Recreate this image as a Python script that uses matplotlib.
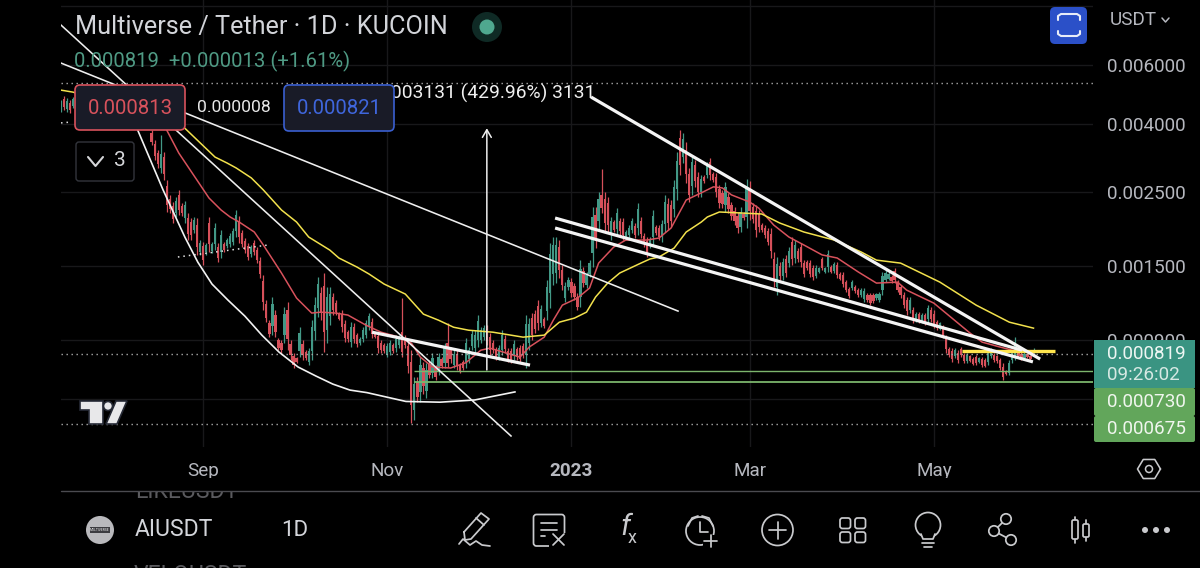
import numpy as np
import matplotlib
matplotlib.use("Agg")
import matplotlib.pyplot as plt
import matplotlib.dates as mdates
from matplotlib.patches import Circle, FancyBboxPatch, Polygon, Rectangle
from matplotlib.ticker import NullFormatter, NullLocator

plt.rcParams["font.family"] = ["Roboto", "DejaVu Sans"]

# daily candles, price in millionths of USDT, first candle is 2022-07-16
highs = [4710,4840,4775,4710,4810,4710,4710,4650,4585,4620,
 4550,4585,4520,4460,4520,4460,4490,4430,4397,4460,
 4397,4340,4397,4340,4310,4340,4280,4250,4280,4220,
 3830,3575,3338,3700,3290,2715,2450,2333,2415,2535,
 2317,2349,2163,2089,2104,2089,1795,1770,1758,2104,
 1770,2018,1758,1923,1770,1820,1884,1950,2208,2118,
 1923,1820,1758,1734,1795,1710,1597,1410,1186,1033,
 1212,1107,913,900,1130,1170,900,823,801,984,
 900,840,852,1033,1212,1391,1298,1430,1298,1298,
 1245,1186,1092,1107,1033,964,1019,1012,945,919,
 984,1033,1085,1048,951,951,900,882,882,900,
 882,932,932,1203,932,900,840,699,699,801,
 775,770,785,823,758,823,801,882,1012,858,
 840,840,770,785,913,858,964,964,1070,984,
 998,998,945,900,858,869,964,932,852,852,
 900,858,869,882,1070,1048,1085,1107,1186,1146,
 1055,1362,1758,1833,1833,1795,1510,1343,1391,1381,
 1334,1245,1563,1490,1440,1563,2254,2254,2500,2930,
 2500,2415,2104,2060,2238,2089,2089,1923,1990,2089,
 2018,2317,2104,1884,1833,1833,2208,1990,1990,2060,
 2450,2398,2365,2715,3290,3830,3750,3525,2950,3225,
 3115,2870,2810,2810,3075,3160,2870,2850,2625,2535,
 2680,2485,2333,2254,2178,2254,2178,2735,2697,2317,
 2285,2208,2018,1990,1950,1950,1652,1597,1541,1586,
 1620,1710,1833,1795,1698,1758,1563,1563,1563,1510,
 1510,1490,1597,1490,1675,1510,1541,1541,1440,1440,
 1362,1298,1362,1316,1289,1289,1289,1245,1245,1245,
 1245,1254,1440,1460,1440,1410,1480,1362,1316,1254,
 1212,1212,1130,1092,1092,1085,1085,1146,1130,1107,
 1033,1019,998,932,858,852,852,840,858,823,
 823,812,801,812,801,801,796,840,852,823,
 812,796,770,733,785,840,919,852,829,829,
 823,812,852]
lows = [4340,4397,4340,4310,4460,4340,4397,4280,4220,4340,
 4220,4310,4165,4165,4250,4165,4220,4135,4108,4165,
 4108,4050,4108,4050,4025,4080,3995,3970,4050,3940,
 3455,3115,2950,2850,2715,2178,2163,2018,2104,2133,
 2118,2018,1795,1795,1884,1620,1620,1510,1620,1652,
 1641,1675,1541,1586,1652,1698,1710,1734,1833,1758,
 1710,1641,1563,1597,1620,1531,1381,1107,1019,919,
 932,919,840,823,882,840,785,743,770,801,
 785,785,758,785,900,1055,1033,829,882,998,
 1070,1070,1033,951,888,888,858,882,858,869,
 888,913,964,913,913,823,823,823,801,812,
 823,829,852,801,852,718,508,519,586,586,
 623,604,694,694,684,708,743,743,748,770,
 743,733,718,733,743,770,840,823,858,882,
 900,869,812,823,785,785,812,823,775,770,
 785,785,770,796,743,840,900,945,964,984,
 978,1033,1122,1316,1334,1381,1271,1170,1271,1212,
 1186,1107,1130,1298,1289,1391,1490,1698,1923,2163,
 1897,1884,1795,1897,1858,1858,1795,1795,1820,1884,
 1820,1858,1820,1710,1597,1698,1734,1858,1795,1770,
 1897,1923,1963,2104,2365,2810,3052,2660,2333,2450,
 2590,2415,2415,2660,2755,2715,2680,2415,2238,2238,
 2178,2163,2060,1990,1884,1897,2060,1950,2060,2018,
 1833,1897,1897,1820,1734,1586,1298,1228,1362,1362,
 1391,1490,1510,1531,1541,1490,1391,1460,1391,1362,
 1381,1430,1460,1430,1440,1430,1430,1381,1362,1298,
 1254,1203,1271,1245,1212,1212,1170,1170,1146,1162,
 1186,1170,1228,1343,1362,1334,1334,1254,1203,1122,
 1070,1085,1012,1019,1012,1012,998,1012,1019,978,
 964,964,913,823,801,775,796,770,801,770,
 770,775,758,758,770,748,748,758,796,775,
 770,733,684,708,708,770,785,796,785,785,
 796,785,812]
opens = [4415,4750,4425,4630,4530,4635,4460,4575,4510,4395,
 4485,4365,4450,4400,4305,4400,4275,4370,4340,4225,
 4340,4280,4165,4280,4255,4130,4225,4195,4095,4165,
 3755,3485,3260,2950,3175,2610,2390,2270,2165,2455,
 2275,2085,2090,2030,1930,1995,1655,1720,1650,2015,
 1665,1745,1715,1655,1745,1720,1745,1775,1910,2045,
 1880,1785,1720,1625,1760,1675,1555,1350,1155,1010,
 990,1070,900,885,930,1105,875,805,795,835,
 875,830,775,835,960,1120,1245,1310,965,1060,
 1210,1165,1080,1075,1005,950,890,985,930,880,
 905,935,990,1020,945,925,885,870,815,830,
 870,850,870,950,915,865,775,555,675,630,
 745,635,765,720,745,730,790,770,880,840,
 760,820,760,775,775,790,865,850,900,900,
 920,970,920,885,845,800,840,910,835,835,
 810,845,850,865,810,880,1050,1075,1140,1015,
 1040,1100,1250,1420,1435,1710,1460,1205,1295,1345,
 1305,1215,1215,1450,1320,1425,1640,2140,2040,2450,
 2380,2310,1855,2030,1935,2045,2030,1820,1855,1925,
 1980,1950,2045,1850,1785,1725,1830,1965,1950,1830,
 2010,2305,2285,2225,2550,3625,3190,3350,2825,2605,
 3010,2780,2495,2780,2820,3070,2830,2765,2550,2475,
 2280,2420,2280,2200,2120,1970,2155,2110,2570,2255,
 2195,2145,1995,1955,1905,1875,1580,1300,1505,1405,
 1575,1535,1770,1585,1665,1705,1530,1545,1530,1480,
 1405,1440,1570,1440,1490,1495,1450,1510,1425,1410,
 1340,1280,1290,1300,1275,1225,1195,1230,1225,1230,
 1200,1185,1270,1365,1375,1395,1450,1340,1295,1230,
 1185,1110,1105,1035,1075,1025,1070,1040,1110,1080,
 1020,975,980,910,845,835,805,825,845,810,
 780,805,790,800,775,790,785,775,805,815,
 805,785,750,728,720,785,810,840,820,795,
 818,806,806]
closes = [4635,4485,4690,4390,4740,4415,4650,4355,4295,4565,
 4285,4530,4235,4225,4465,4225,4435,4195,4165,4400,
 4165,4110,4340,4110,4080,4290,4050,4025,4235,3995,
 3530,3205,3030,3250,2830,2285,2220,2080,2355,2215,
 2160,2285,1870,1855,2060,1715,1760,1560,1730,1745,
 1745,1950,1585,1855,1675,1795,1850,1905,2135,1830,
 1750,1675,1600,1705,1655,1565,1425,1170,1050,940,
 1155,955,855,840,1080,905,810,760,775,945,
 810,795,835,985,1150,1325,1085,950,1215,1240,
 1105,1095,1045,985,915,905,985,910,875,910,
 965,1010,1060,940,920,850,840,835,865,880,
 835,910,915,830,870,755,575,665,610,760,
 655,735,710,795,700,800,755,855,770,790,
 820,755,730,745,880,840,940,935,1030,965,
 980,895,840,840,800,850,935,845,790,785,
 875,800,790,815,1005,1005,935,975,1010,1115,
 995,1295,1630,1730,1735,1465,1320,1310,1365,1245,
 1215,1135,1475,1335,1410,1530,2100,1810,2385,2240,
 2020,1990,2040,1930,2160,1905,1855,1900,1955,2050,
 1860,2225,1875,1745,1645,1805,2115,1885,1835,2000,
 2340,2020,2045,2590,3105,3015,3610,2835,2455,3070,
 2695,2505,2730,2690,3010,2805,2720,2500,2315,2300,
 2580,2230,2115,2045,1945,2180,2085,2580,2190,2080,
 1925,1960,1920,1855,1775,1660,1370,1525,1400,1540,
 1435,1665,1575,1740,1570,1545,1425,1480,1425,1390,
 1485,1480,1485,1480,1630,1445,1520,1410,1375,1325,
 1275,1220,1345,1260,1225,1275,1265,1185,1165,1180,
 1235,1235,1400,1435,1425,1350,1365,1275,1225,1150,
 1100,1185,1035,1075,1030,1070,1015,1120,1040,1005,
 980,1010,930,845,815,790,840,785,815,780,
 810,780,765,770,795,760,755,825,840,785,
 780,745,700,713,770,825,890,805,795,820,
 802,790,819]

# moving averages: day number since the first candle, price
red_days = [35,39,45,49,53,56,59,64,67,73,78,83,86,91,95,101,106,112,116,119,123,129,134,139,142,152,155,160,163,166,171,175,178,183,187,194,198,202,207,212,216,219,222,228,231,236,241,246,252,257,264,270,277,280,289,295,301,305,311,315,322]
red_vals = [3830,3270,2715,2398,2208,2104,2032,1897,1734,1430,1203,1085,1092,1085,1070,998,951,919,882,801,748,743,770,840,852,801,858,919,1033,1146,1203,1289,1531,1710,1795,1795,1820,1950,2365,2485,2590,2570,2450,2333,2238,1990,1833,1734,1620,1586,1440,1334,1343,1271,1162,1048,945,888,858,840,823]
yellow_days = [0,4,41,51,55,58,63,67,73,78,82,89,92,98,102,107,114,117,120,125,130,135,143,153,160,165,170,174,177,181,183,185,192,195,198,203,207,212,214,218,225,232,238,246,256,265,270,278,291,303,314,322]
yellow_vals = [5045,4975,3880,3180,3052,2950,2755,2535,2208,2032,1833,1675,1586,1490,1420,1325,1237,1154,1077,1033,984,964,951,919,932,1019,1048,1092,1212,1334,1381,1430,1531,1575,1597,1698,1897,2032,2104,2178,2163,2148,2018,1897,1795,1652,1563,1531,1343,1146,1019,978]

# trend lines the chart author drew
thin_lines = [([0, 149], [7900, 465]), ([0, 204.3], [6080, 1100])]
thick_lines = [([163.6, 318.2], [2089, 840]), ([163.6, 321.8], [1950, 775]),
               ([175.5, 324.2], [4810, 790]), ([103, 155.3], [951, 758])]
arc_days = [25.1,26.1,33.8,41,45.3,50,55.3,60.9,66.5,72.2,78.5,84.4,90,95.7,101.3,114.2,125.5,137,150.3]
arc_vals = [3885,3700,2535,1833,1541,1325,1186,1062,932,829,748,703,665,638,627,590,587,596,630]
level_lines = [5300, 819, 505]
support_lines = [730, 675]

price_ticks = [0.006, 0.004, 0.0025, 0.0015, 0.0009]
price_labels = ["0.006000", "0.004000", "0.002500", "0.001500", "0.000900"]
grid_only = [0.009, 0.0006]
month_ticks = ["2022-09-01", "2022-11-01", "2023-01-01", "2023-03-01", "2023-05-01"]
month_labels = ["Sep", "Nov", "2023", "Mar", "May"]

UP = "#429886"
DOWN = "#d6505a"
TXT = "#b6b8bf"
ICON = "#c9cacd"

start = mdates.date2num(np.datetime64("2022-07-16"))


def price(vals):
    return np.array(vals) * 1e-6


fig = plt.figure(figsize=(12, 5.68), dpi=100, facecolor="black")
ax = fig.add_axes([61 / 1200, 1 - 447 / 568, (1093 - 61) / 1200, 447 / 568], facecolor="black")
ax.set_yscale("log")
ax.set_ylim(0.000431, 0.00939)
ax.set_xlim(start, start + 341.7)

for s in ax.spines.values():
    s.set_visible(False)

ax.yaxis.tick_right()
ax.set_yticks(price_ticks + grid_only)
ax.set_yticklabels(price_labels + ["", ""])
ax.yaxis.set_minor_locator(NullLocator())
ax.yaxis.set_minor_formatter(NullFormatter())
ax.tick_params(axis="y", length=0, pad=10, labelsize=13.6, labelcolor=TXT)
ticks = [mdates.date2num(np.datetime64(m)) for m in month_ticks]
ax.set_xticks(ticks)
ax.set_xticklabels(month_labels)
ax.tick_params(axis="x", length=0, pad=11, labelsize=13.6, labelcolor=TXT)
ax.get_xticklabels()[2].set_fontweight("bold")
ax.grid(True, color="#18181a", lw=1.0, zorder=0)
ax.set_axisbelow(True)

# candles
x = start + np.arange(len(closes))
hi, lo, op, cl = price(highs), price(lows), price(opens), price(closes)
cols = [UP if c >= o else DOWN for o, c in zip(op, cl)]
ax.vlines(x, lo, hi, colors=cols, lw=0.9, zorder=2)
ax.bar(x, np.abs(cl - op), bottom=np.minimum(op, cl), width=0.74, color=cols, linewidth=0, zorder=2)

# moving averages
ax.plot(start + np.array(red_days), price(red_vals), color="#d8525c", lw=1.1, zorder=3)
ax.plot(start + np.array(yellow_days), price(yellow_vals), color="#f2e14c", lw=1.1, zorder=3)

# levels
for v in level_lines:
    ax.axhline(v * 1e-6, color="#a9a9a9", lw=1.0, ls=(0, (1, 2.6)), zorder=3)
ax.plot(start + np.array([0, 3.6]), price([4025, 4050]), color="#dddddd", lw=1.1, ls=(0, (1, 2.6)), zorder=4)
ax.plot(start + np.array([38.7, 68.5]), price([1597, 1734]), color="#e6e6e6", lw=1.1, ls=(0, (1, 2.6)), zorder=4)
for v, w in zip(support_lines, [1.0, 1.3]):
    ax.hlines(v * 1e-6, start + 116.9, start + 341.7, color="#7cb56c", lw=w, zorder=4)
ax.hlines(835e-6, start + 298.3, start + 329, color="#ffe54d", lw=2.4, zorder=4)

# drawings
for dx, dy in thin_lines:
    ax.plot(start + np.array(dx), price(dy), color="#eeeeee", lw=1.15, zorder=5)
ax.plot(start + np.array(arc_days), price(arc_vals), color="#f2f2f2", lw=1.2, zorder=5)
for dx, dy in thick_lines:
    ax.plot(start + np.array(dx), price(dy), color="#f4f4f4", lw=2.3, zorder=6, solid_capstyle="butt")
ax.annotate("", xy=(start + 141, 3880e-6), xytext=(start + 141, 733e-6),
            arrowprops=dict(arrowstyle="->,head_length=0.55,head_width=0.32", color="#eeeeee", lw=1.1,
                            shrinkA=0, shrinkB=0), zorder=5)

# everything below sits on the app screen, positioned in screen pixels
ui = fig.add_axes([0, 0, 1, 1], facecolor="none", zorder=5)
ui.set_xlim(0, 1200)
ui.set_ylim(568, 0)
ui.axis("off")


def box(x0, y0, x1, y1, fc, ec="none", lw=1.0, r=4, z=3):
    ui.add_patch(FancyBboxPatch((x0, y0), x1 - x0, y1 - y0, boxstyle="round,pad=0,rounding_size=%g" % r,
                                fc=fc, ec=ec, lw=lw, zorder=z))


def label(px, py, s, size, color, ha="left", z=4, **kw):
    ui.text(px, py, s, fontsize=size, color=color, ha=ha, va="center", zorder=z, **kw)


def stroke(xs, ys, color=ICON, lw=1.25, z=4):
    ui.plot(xs, ys, color=color, lw=lw, zorder=z, solid_capstyle="round", solid_joinstyle="round")


label(75, 27, "Multiverse / Tether · 1D · KUCOIN", 18.2, "#d3d5da")
ui.add_patch(Circle((487, 27), 15, fc="#0f2a25", ec="none", zorder=3))
ui.add_patch(Circle((487, 27), 7.5, fc="#4fa88f", ec="none", zorder=4))
label(74, 61, "0.000819  +0.000013 (+1.61%)", 14.6, "#4f9a84")

label(595, 93, "0.003131 (429.96%) 3131", 13.9, "#f0f0f0", ha="right", z=2)
box(75, 85, 185, 130, "#191b27", "#d8525c", 1.2, r=5)
label(130, 108, "0.000813", 14.7, "#d8525c", ha="center")
label(234, 107, "0.000008", 12.6, "#e8e8e8", ha="center")
box(284, 85, 394, 131, "#191b27", "#3a5fd0", 1.2, r=5)
label(339, 108, "0.000821", 14.7, "#3f66dc", ha="center")

box(76, 142, 134, 181, "black", "#33353c", 1.0, r=3)
stroke([88, 95.5, 103], [157, 166, 157], color="#d5d6d9", lw=1.5)
label(120, 161, "3", 15, "#d5d6d9", ha="center")

# top right
box(1050, 7, 1087, 44, "#2b50c8", r=5)
stroke([1058, 1058, 1061, 1077, 1080, 1080], [20, 16, 14, 14, 16, 20], color="#e8ecf8", lw=1.5)
stroke([1058, 1058, 1061, 1077, 1080, 1080], [31, 34, 36, 36, 34, 31], color="#e8ecf8", lw=1.5)
label(1110, 20, "USDT", 13.6, TXT)
stroke([1162, 1165.5, 1169], [18, 22, 18], color=TXT, lw=1.1)

# price tags
ui.add_patch(Rectangle((1094, 340), 101, 48, fc="#3a9482", ec="none", zorder=3))
label(1107, 354, "0.000819", 13.6, "#eef6f3")
label(1107, 375, "09:26:02", 13.6, "#d6e8e3")
box(1094, 388, 1195, 416, "#62a65b", r=2)
label(1107, 402, "0.000730", 13.6, "#f0f6ee")
box(1094, 416, 1195, 442, "#62a65b", r=2)
label(1107, 429, "0.000675", 13.6, "#f0f6ee")

# tradingview mark
logo = dict(fc="#e8e8ea", ec="#262a36", lw=1.2, zorder=4)
ui.add_patch(Polygon([(80, 401), (103, 401), (103, 424), (89, 424), (89, 410), (80, 410)], **logo))
ui.add_patch(Circle((108, 406), 4.5, **logo))
ui.add_patch(Polygon([(127, 401), (116, 401), (106, 424), (117, 424)], **logo))

# settings hexagon
t = np.radians(np.arange(0, 361, 60))
stroke(1149 + 11.5 * np.cos(t), 469 + 11 * np.sin(t), lw=1.15)
ui.add_patch(Circle((1149, 469), 3.5, fc="none", ec=ICON, lw=1.1, zorder=4))

# bottom bar
label(135, 492, "LIKEUSDT", 16.6, "#5a5a5e", z=2)
ui.add_patch(Rectangle((0, 478), 1200, 13, fc="black", ec="none", zorder=3))
stroke([61, 1200], [491, 491], color="#4b4b50", lw=1.0, z=3)
ui.text(134, 575, "VELOUSDT", fontsize=16.6, color="#5a5a5e", va="center", zorder=2)
ui.add_patch(Circle((100, 530), 14, fc="#b9b9bc", ec="none", zorder=3))
ui.add_patch(Rectangle((90, 527), 20, 6, fc="#3c3c40", ec="none", zorder=3))
label(100, 530, "MULTIVERSE", 2.4, "#eeeeee", ha="center")
label(135, 530, "AIUSDT", 16.6, "#d3d5da")
label(281, 530, "1D", 16, "#d3d5da")

# pen
stroke([464, 481, 489, 471, 465, 464], [532, 513, 519, 539, 540, 532])
stroke([476, 484], [518, 525])
stroke([459, 463, 470, 476, 482, 490], [544, 539, 545, 541, 545, 546])
# note with cross
box(533.5, 514.5, 564.5, 546, "none", ICON, 1.25, r=3, z=4)
for yy, x1 in zip([523, 529.5, 536], [557, 557, 545]):
    stroke([541, x1], [yy, yy])
ui.add_patch(Rectangle((549, 533), 17, 14, fc="black", ec="none", zorder=4))
stroke([553, 564], [534, 545], z=5)
stroke([564, 553], [534, 545], z=5)
# fx
label(625, 527, "f", 21, ICON, ha="center", style="italic")
label(632, 538, "x", 13, ICON, ha="center")
# alarm clock
ui.add_patch(Circle((700, 531), 14, fc="none", ec=ICON, lw=1.25, zorder=4))
stroke([700, 700, 708], [522, 532, 532])
stroke([688, 692, 698], [526, 518, 516])
stroke([702, 709, 713], [516, 518, 526])
ui.add_patch(Rectangle((703, 535), 16, 14, fc="black", ec="none", zorder=4))
stroke([704, 717], [541, 541], z=5)
stroke([711, 711], [535, 547], z=5)
# circle plus
ui.add_patch(Circle((777.5, 530), 15.5, fc="none", ec=ICON, lw=1.25, zorder=4))
stroke([769, 786], [530, 530])
stroke([777.5, 777.5], [521.5, 538.5])
# squares
for xx in [840, 855]:
    for yy in [518, 532]:
        box(xx, yy, xx + 10.5, yy + 10.5, "none", ICON, 1.25, r=2.5, z=4)
# bulb
ui.add_patch(Circle((928, 525), 12.5, fc="black", ec=ICON, lw=1.25, zorder=4))
ui.add_patch(Rectangle((922, 534), 12, 6, fc="black", ec="none", zorder=4))
stroke([921, 923, 933, 935], [534, 539, 539, 534], z=5)
stroke([922, 934], [543, 543])
stroke([924, 932], [547, 547])
# share
nodes = [(1006, 519), (994, 531), (1011, 540)]
stroke([1006, 994, 1011], [519, 531, 540])
for n in nodes:
    ui.add_patch(Circle(n, 5.2, fc="black", ec=ICON, lw=1.25, zorder=5))
# candle icon
stroke([1075, 1075], [517, 543])
box(1072, 520, 1078, 539, "black", ICON, 1.25, r=1.5, z=5)
stroke([1086, 1086], [520, 541])
box(1083, 524, 1089, 537, "black", ICON, 1.25, r=1.5, z=5)
# dots
for xx in [1145, 1156, 1167]:
    ui.add_patch(Circle((xx, 530), 3, fc=ICON, ec="none", zorder=4))

fig.savefig("out.png", dpi=100, facecolor="black")
